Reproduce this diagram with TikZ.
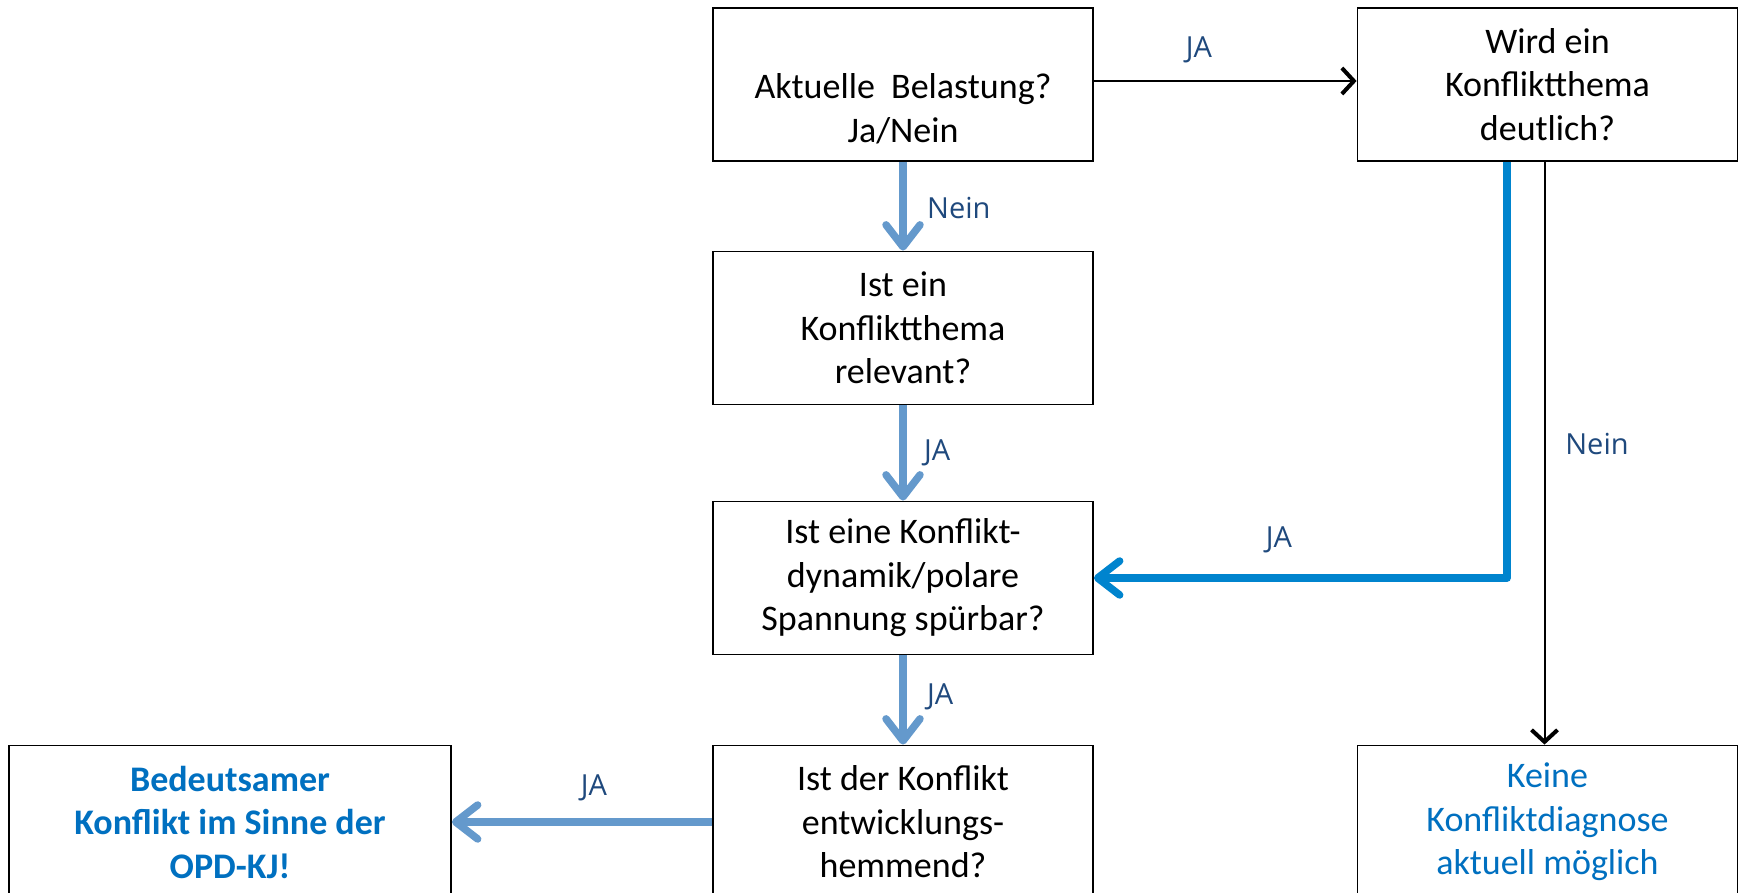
\documentclass[tikz,border=0pt]{standalone}
\usepackage{fontspec}
\setmainfont{Carlito}
\newfontfamily\labfont{Open Sans}
\usetikzlibrary{arrows.meta}
\definecolor{steel}{RGB}{100,153,204}
\definecolor{bright}{RGB}{0,132,206}
\definecolor{labblue}{RGB}{31,73,125}
\definecolor{resblue}{RGB}{0,112,192}
\begin{document}
\begin{tikzpicture}[x=1pt,y=-1pt,
 box/.style={draw=black,line width=1.8pt,rectangle,inner sep=0pt,minimum width=380pt,minimum height=153pt,align=center,font=\fontsize{36}{43.5}\selectfont},
 soft/.style={draw=steel,line width=7.5pt,-{Straight Barb[length=22pt,width=34pt,round]}},
 strong/.style={draw=bright,line width=7.5pt,line join=round,-{Straight Barb[length=22pt,width=34pt,round]}},
 thin/.style={draw=black,line width=2pt,-{Straight Barb[length=12pt,width=26pt,line width=4pt]}},
 lab/.style={text=labblue,font=\labfont\fontsize{29}{32}\selectfont,inner sep=0pt}
]
\clip (0,0) rectangle (1741,893);
\fill[white] (0,0) rectangle (1741,893);
\node[box] (a) at (903,84.5) {\strut\\Aktuelle\ \ Belastung?\\Ja/Nein};
\node[box] (b) at (1547.5,84.5) {Wird ein\\Konfliktthema\\deutlich?};
\node[box] (c) at (903,328) {Ist ein\\Konfliktthema\\relevant?};
\node[box] (d) at (903,578) {Ist eine Konflikt-\\dynamik/polare\\Spannung spürbar?};
\node[box] (e) at (903,822) {Ist der Konflikt\\entwicklungs-\\hemmend?};
\node[box,minimum width=442pt,text=resblue,font=\fontsize{36}{43.5}\selectfont\bfseries] (f) at (230,822) {Bedeutsamer\\Konflikt im Sinne der\\OPD-KJ!};
\node[box,text=resblue] (g) at (1547.5,822) {Keine\\Konfliktdiagnose\\aktuell möglich};

\draw[thin] ([yshift=3.5pt]a.east) -- ([yshift=3.5pt]b.west);
\draw[soft] (a) -- (c);
\draw[soft] (c) -- (d);
\draw[soft] (d) -- (e);
\draw[soft] (e.west) -- (f.east);
\draw[strong] ([xshift=-40.5pt]b.south) |- (d.east);
\draw[thin] ([xshift=-3pt]b.south) -- ([xshift=-3pt]g.north);

\node[lab] (l1) at (1199,50) {JA};
\node[lab,anchor=west] (l2) at (927,208) {Nein};
\node[lab,anchor=west] (l3) at (924,453) {JA};
\node[lab,anchor=west] (l4) at (927,697) {JA};
\node[lab] (l5) at (594,788) {JA};
\node[lab] (l6) at (1279,540) {JA};
\node[lab] (l7) at (1597,444) {Nein};
\end{tikzpicture}
\end{document}
